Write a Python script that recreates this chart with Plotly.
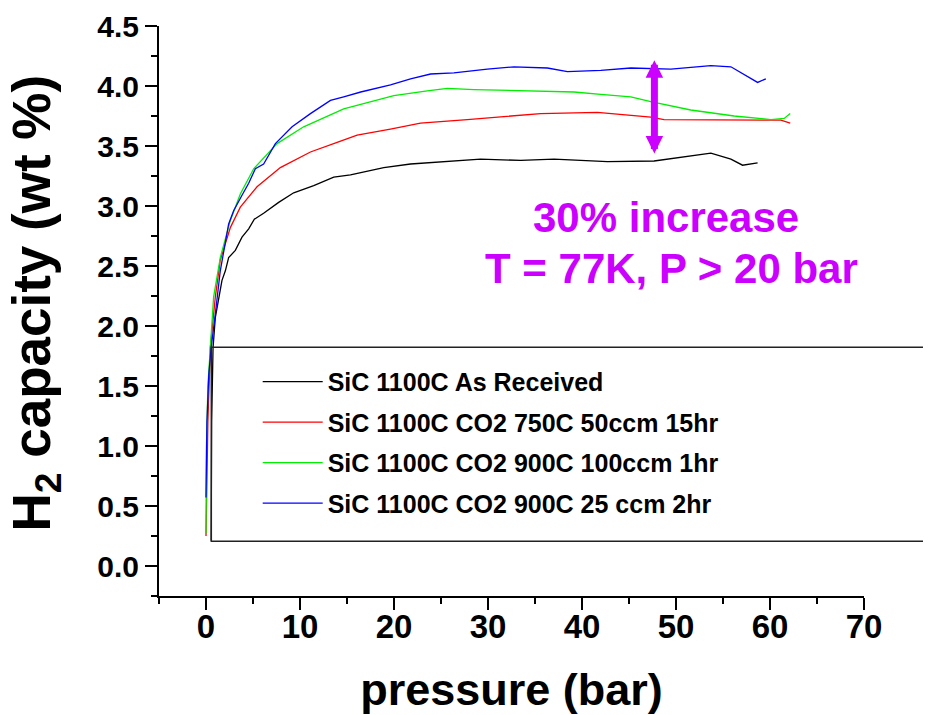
import plotly.graph_objects as go

# ---- data ----
names = [
    "SiC 1100C As Received",
    "SiC 1100C CO2 750C 50ccm 15hr",
    "SiC 1100C CO2 900C 100ccm 1hr",
    "SiC 1100C CO2 900C 25 ccm 2hr",
]
colors = ["#000000", "#ff0000", "#00ee00", "#0000ff"]

black_p = [0.55, 0.6, 0.75, 0.99, 1.70, 2.06, 2.41, 3.12, 3.83, 4.54, 5.14, 6.13, 7.73, 9.33,
           11.46, 13.59, 15.37, 17.15, 18.91, 21.76, 25.30, 29.21, 33.47, 37.02, 42.7,
           47.67, 53.71, 55.84, 57.08, 58.68]
black_c = [0.21, 1.2, 1.82, 2.07, 2.38, 2.46, 2.57, 2.63, 2.74, 2.81, 2.89, 2.94, 3.03, 3.11,
           3.17, 3.24, 3.26, 3.29, 3.32, 3.35, 3.37, 3.39, 3.38, 3.39, 3.37,
           3.375, 3.44, 3.39, 3.34, 3.36]

red_p = [0.0, 0.05, 0.2, 0.46, 0.99, 1.52, 2.59, 3.65, 5.43, 7.91, 10.04, 11.11, 13.95, 16.08,
         19.62, 22.82, 27.80, 32.76, 35.6, 41.64, 47.32, 48.73, 59.74, 61.16, 62.15]
red_c = [0.25, 0.6, 1.2, 1.82, 2.24, 2.55, 2.82, 2.99, 3.16, 3.32, 3.41, 3.45, 3.53, 3.59,
         3.64, 3.69, 3.72, 3.75, 3.77, 3.78, 3.74, 3.72, 3.715, 3.715, 3.69]

green_p = [0.0, 0.05, 0.2, 0.46, 0.81, 1.52, 2.59, 3.65, 5.07, 7.56, 10.39, 14.65, 19.98,
           23.54, 25.67, 28.50, 32.76, 39.15, 42.0, 45.19, 47.32, 51.57, 56.19, 60.1,
           61.51, 62.15]
green_c = [0.27, 1.0, 1.5, 1.82, 2.24, 2.57, 2.88, 3.10, 3.31, 3.52, 3.66, 3.81, 3.92,
           3.96, 3.98, 3.97, 3.96, 3.95, 3.93, 3.91, 3.87, 3.80, 3.75, 3.72,
           3.73, 3.77]

blue_p = [0.0, 0.1, 0.3, 0.55, 0.99, 1.52, 2.41, 2.94, 3.83, 4.54, 5.25, 6.13, 7.38, 9.16,
          11.11, 13.24, 14.65, 16.46, 19.63, 21.76, 23.89, 26.37, 29.93, 32.76, 36.32,
          38.45, 42.0, 45.19, 49.45, 53.71, 55.84, 58.68, 59.56]
blue_c = [0.57, 1.2, 1.6, 1.82, 2.10, 2.46, 2.85, 2.96, 3.09, 3.19, 3.31, 3.35, 3.52, 3.66,
          3.77, 3.88, 3.91, 3.95, 4.01, 4.06, 4.10, 4.11, 4.14, 4.16, 4.15,
          4.12, 4.13, 4.15, 4.14, 4.17, 4.16, 4.03, 4.06]

series_p = [black_p, red_p, green_p, blue_p]
series_c = [black_c, red_c, green_c, blue_c]

x_ticks = [0, 10, 20, 30, 40, 50, 60, 70]
y_ticks = [0.0, 0.5, 1.0, 1.5, 2.0, 2.5, 3.0, 3.5, 4.0, 4.5]

arrow_x = 47.7
arrow_top = 4.214
arrow_bottom = 3.424

note1 = "30% increase"
note2 = "T = 77K, P > 20 bar"
x_title = "pressure (bar)"
y_title = "H<sub>2</sub> capacity (wt %)"

# ---- figure ----
fig = go.Figure()
for i, (n, c, p, v) in enumerate(zip(names, colors, series_p, series_c)):
    fig.add_trace(go.Scatter(x=p, y=v, mode="lines", name=n, legendgroup="g%d" % i,
                             line=dict(color=c, width=1.3)))

bold = "Liberation Sans, Arial, sans-serif"
magenta = "#cc00ff"

# the page body adds an 8px offset, so the figure is a bit smaller than the window
fig.update_layout(
    width=923, height=707,
    margin=dict(l=151, r=67, t=18, b=119, autoexpand=False),
    paper_bgcolor="white", plot_bgcolor="white",
    font=dict(family=bold, color="black"),
    showlegend=True,
    legend=dict(
        x=0.14, y=0.416, xanchor="left", yanchor="top",
        bgcolor="rgba(0,0,0,0)", borderwidth=0,
        font=dict(family=bold, size=25, color="black", weight="bold"),
        itemwidth=60, tracegroupgap=5,
    ),
    xaxis=dict(
        range=[-5, 70], tickvals=x_ticks, ticktext=[str(t) for t in x_ticks],
        automargin=False,
        showline=True, linecolor="black", linewidth=2, mirror=False,
        ticks="outside", ticklen=12, tickwidth=2, tickcolor="black",
        minor=dict(dtick=5, tick0=-5, ticks="outside", ticklen=6, tickwidth=2, tickcolor="black"),
        showgrid=False, zeroline=False,
        tickfont=dict(size=33, weight="bold", family=bold),
        ticklabelstandoff=-12,
        title=dict(text=x_title, font=dict(size=45, weight="bold", family=bold), standoff=31),
    ),
    yaxis=dict(
        range=[-0.25, 4.5], tickvals=y_ticks, ticktext=["%.1f" % t for t in y_ticks],
        automargin=False,
        showline=True, linecolor="black", linewidth=2, mirror=False,
        ticks="outside", ticklen=12, tickwidth=2, tickcolor="black",
        minor=dict(dtick=0.25, tick0=0, ticks="outside", ticklen=6, tickwidth=2, tickcolor="black"),
        showgrid=False, zeroline=False,
        tickfont=dict(size=30, weight="bold", family=bold),
    ),
)

# y-axis title (placed as in the reference, slightly above the axis centre)
fig.add_annotation(x=-0.1757, y=0.5135, xref="paper", yref="paper", text=y_title,
                   textangle=-90, showarrow=False, xanchor="center", yanchor="middle",
                   font=dict(size=53, weight="bold", family=bold, color="black"))

# legend frame (cut off at the right edge, as in the reference)
fig.add_shape(type="rect", xref="paper", yref="paper",
              x0=0.0742, x1=1.11, y0=0.0959, y1=0.4363,
              line=dict(color="#222222", width=1.5), fillcolor="rgba(0,0,0,0)")

# double-headed arrow
fig.add_annotation(x=arrow_x, y=arrow_top, ax=arrow_x, ay=arrow_bottom,
                   xref="x", yref="y", axref="x", ayref="y",
                   text="", showarrow=True, arrowhead=2, startarrowhead=2,
                   arrowside="end+start", arrowsize=0.5, startarrowsize=0.5,
                   arrowwidth=7, arrowcolor=magenta, standoff=0, startstandoff=0)

fig.add_annotation(x=48.9, y=2.905, xref="x", yref="y", text=note1, showarrow=False,
                   xanchor="center", yanchor="middle",
                   font=dict(size=42, color=magenta, weight="bold", family=bold))
fig.add_annotation(x=49.5, y=2.477, xref="x", yref="y", text=note2, showarrow=False,
                   xanchor="center", yanchor="middle",
                   font=dict(size=42, color=magenta, weight="bold", family=bold))

fig.write_html("out.html")
